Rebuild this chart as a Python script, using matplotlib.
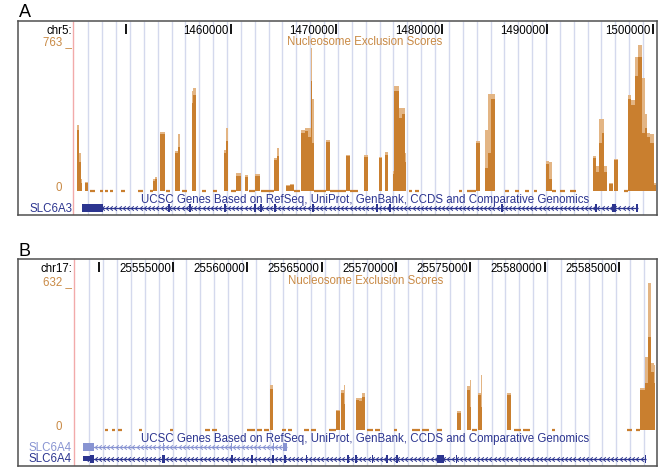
import numpy as np
import matplotlib
matplotlib.use('Agg')
import matplotlib.pyplot as plt
from matplotlib.transforms import offset_copy

plt.rcParams['font.family'] = ['Liberation Sans', 'DejaVu Sans']
plt.rcParams['font.size'] = 8.3

W, H = 661, 470

############# Panel A : chr5, SLC6A3 #############

a_view = [1445023, 1500380]
a_max_score = 763
a_ticks = [1450000, 1460000, 1470000, 1480000, 1490000, 1500000]
a_tick_labels = ['', '1460000', '1470000', '1480000', '1490000', '1500000']

a_bar_start = [1445355, 1445592, 1445734, 1446161, 1452559, 1452796, 1453317, 1454692, 1454929,
               1456256, 1456445, 1459336, 1459526, 1460521, 1461374, 1462275, 1464076, 1464360,
               1465213, 1465593, 1466588, 1467014, 1467299, 1467536, 1467678, 1469005, 1470901,
               1472560, 1474029, 1474550, 1475309, 1475451, 1475877, 1476209, 1476446, 1483224,
               1484077, 1484361, 1484645, 1489859, 1490143, 1494267, 1494598, 1494883, 1495167,
               1495357, 1495783, 1496257, 1497584, 1497916, 1498295, 1498580, 1498959, 1499243,
               1499433, 1499717, 1500049]
a_bar_end = [1445592, 1445734, 1445876, 1446492, 1452796, 1452986, 1453791, 1454929, 1455166,
             1456445, 1456682, 1459526, 1459716, 1460901, 1461611, 1462749, 1464360, 1464550,
             1465545, 1465972, 1467014, 1467299, 1467536, 1467678, 1467820, 1469384, 1471233,
             1472986, 1474313, 1474882, 1475451, 1475877, 1476209, 1476446, 1476588, 1483603,
             1484361, 1484645, 1484977, 1490143, 1490428, 1494598, 1494883, 1495167, 1495357,
             1495641, 1496162, 1496684, 1497916, 1498295, 1498580, 1498959, 1499243, 1499433,
             1499717, 1500049, 1500238]
a_bar_max = [345, 200, 60, 47, 60, 75, 308, 210, 298,
             520, 535, 216, 330, 94, 85, 86, 172, 225,
             30, 38, 320, 330, 330, 747, 480, 268, 190,
             190, 178, 204, 105, 549, 434, 434, 200, 263,
             320, 503, 503, 157, 150, 183, 130, 373, 373,
             130, 40, 169, 502, 472, 700, 763, 590, 399,
             303, 295, 40]
a_bar_mean = [320, 150, 40, 40, 50, 60, 295, 200, 230,
              460, 500, 200, 260, 80, 75, 80, 160, 180,
              25, 30, 300, 310, 280, 575, 250, 255, 180,
              175, 170, 190, 90, 520, 380, 400, 150, 250,
              120, 200, 480, 140, 60, 170, 100, 250, 300,
              100, 35, 160, 480, 450, 600, 700, 300, 330,
              280, 250, 30]
a_zero_start = [1446635, 1447583, 1448056, 1448530, 1449620, 1451185, 1452322, 1453839, 1455355,
                1457204, 1458294, 1460047, 1461706, 1462844, 1465972, 1467820, 1469384, 1471233,
                1476825, 1477441, 1481565, 1482370, 1485972, 1486920, 1487868, 1488674, 1490428,
                1491186, 1492134, 1497205]
a_zero_end = [1447109, 1447914, 1448388, 1448815, 1449952, 1451658, 1452559, 1454218, 1455829,
              1457630, 1458673, 1460521, 1462275, 1464076, 1466541, 1469005, 1470901, 1472038,
              1477157, 1477773, 1481896, 1483224, 1486304, 1487252, 1488200, 1489006, 1490759,
              1491660, 1492655, 1497584]

a_gene_names = ['SLC6A3']
a_gene_span = [(1445850, 1498560)]
a_exon_start = [[1445850, 1454050, 1456020, 1459360, 1462200, 1462770, 1464100, 1467700,
                 1473770, 1474980, 1485620, 1494530, 1496120, 1498420]]
a_exon_end = [[1447870, 1454200, 1456210, 1459500, 1462350, 1462920, 1464240, 1467850,
               1473910, 1475170, 1485760, 1494670, 1496490, 1498560]]

############# Panel B : chr17, SLC6A4 #############

b_view = [25548338, 25587568]
b_max_score = 632
b_ticks = [25550000, 25555000, 25560000, 25565000, 25570000, 25575000, 25580000, 25585000]
b_tick_labels = ['', '25555000', '25560000', '25565000', '25570000', '25575000', '25580000', '25585000']

b_bar_start = [25561494, 25565968, 25566338, 25566473, 25567314, 25567516, 25567718, 25574110,
               25574783, 25574952, 25575523, 25575692, 25577475, 25586424, 25586761, 25586963,
               25587165, 25587333]
b_bar_end = [25561729, 25566204, 25566473, 25566574, 25567516, 25567718, 25567920, 25574346,
             25574952, 25575052, 25575692, 25575793, 25577744, 25586761, 25586963, 25587165,
             25587333, 25587434]
b_bar_max = [193, 86, 170, 193, 139, 139, 159, 82,
             190, 215, 160, 236, 159, 181, 315, 632,
             290, 280]
b_bar_mean = [175, 80, 160, 110, 130, 125, 140, 75,
              170, 100, 150, 100, 150, 170, 200, 400,
              250, 200]
b_zero_start = [25550424, 25550895, 25551299, 25552712, 25554798, 25557153, 25557624, 25559979,
                25560652, 25561123, 25562335, 25562738, 25563815, 25564286, 25565497, 25568054,
                25568593, 25569871, 25571082, 25571755, 25572765, 25575120, 25577946, 25578552,
                25580503, 25585550, 25586155]
b_zero_end = [25550626, 25551097, 25551568, 25552914, 25555000, 25557490, 25557961, 25560518,
              25560989, 25561460, 25562604, 25563008, 25564151, 25564622, 25565968, 25568458,
              25568929, 25570073, 25571621, 25572226, 25573101, 25575456, 25578417, 25579023,
              25580705, 25585886, 25586424]

b_gene_names = ['SLC6A4', 'SLC6A4']
b_gene_span = [(25548944, 25562700), (25548944, 25586860)]
b_exon_start = [[25548944, 25554300, 25558900, 25561700, 25562400],
                [25549420, 25554270, 25558890, 25560280, 25561690, 25562460, 25563950, 25566740,
                 25567240, 25568380, 25569350, 25569980, 25572744, 25574010, 25586790]]
b_exon_end = [[25549684, 25554400, 25558990, 25561780, 25562700],
              [25549684, 25554430, 25559010, 25560390, 25561810, 25562610, 25564040, 25566860,
               25567390, 25568490, 25569490, 25570120, 25573236, 25574080, 25586860]]
# untranslated ends drawn at half height
b_utr_start = [[], [25548944]]
b_utr_end = [[], [25549420]]
a_utr_start = [[]]
a_utr_end = [[]]

################# colours #################

dark_or = '#c97f2f'
light_or = '#e3b584'
label_or = '#c98a45'
navy = '#2c3590'
light_navy = '#8894d2'
grid_c = '#d4d9ed'
red_c = '#f2aaaa'

fig = plt.figure(figsize=(W / 100, H / 100), dpi=100)


def px_axes(x0, y0, x1, y1):
    # axes placed with pixel corners (top-left origin)
    return fig.add_axes([x0 / W, 1 - y1 / H, (x1 - x0) / W, (y1 - y0) / H])


def draw_panel(letter, rows, view, chrom, ticks, tick_labels, max_score,
               b_start, b_end, b_max, b_mean, z_start, z_end,
               gene_names, gene_span, ex_start, ex_end, utr_start, utr_end,
               gene_cols, grid_x0, red_x):
    top, bot = rows['top'], rows['bot']
    fig.text(19 / W, 1 - rows['letter'] / H, letter, fontsize=13, va='baseline')

    # frame with guide lines
    box = px_axes(18, top, 657, bot)
    box.set_xlim(18, 657)
    box.set_ylim(bot, top)
    box.set_xticks([])
    box.set_yticks([])
    for s in box.spines.values():
        s.set_color('#505050')
        s.set_linewidth(1.1)
    box.vlines(np.arange(grid_x0, 656, 13.87), top, bot, color=grid_c, lw=1.0)
    box.vlines(red_x, top, bot, color=red_c, lw=1.0)
    box.text(72, rows['chrom'], chrom, ha='right', va='baseline')
    box.text(72, rows['max'], '%d _' % max_score, ha='right', va='baseline', color=label_or)
    box.text(62, rows['zero'], '0', ha='right', va='baseline', color=label_or)

    # ruler and genes
    trk = px_axes(red_x, top, 657, bot)
    trk.set_xlim(view)
    trk.set_ylim(bot, top)
    trk.axis('off')
    trk.vlines(ticks, rows['ruler'] - 10.5, rows['ruler'], color='black', lw=1.3)
    lab_tr = offset_copy(trk.transData, fig=fig, x=-2, y=0, units='dots')
    for t, lab in zip(ticks, tick_labels):
        trk.text(t, rows['ruler'], lab, ha='right', va='baseline', transform=lab_tr)
    trk.text(np.mean(view), rows['title'], 'Nucleosome Exclusion Scores',
             ha='center', va='baseline', color=label_or)
    trk.text(np.mean(view), rows['gtitle'],
             'UCSC Genes Based on RefSeq, UniProt, GenBank, CCDS and Comparative Genomics',
             ha='center', va='baseline', color=navy)

    step = 4.2 * (view[1] - view[0]) / (657 - red_x)
    chevron = [(0.6, 1), (-0.6, 0), (0.6, -1)]
    for i, name in enumerate(gene_names):
        span, gy, col = gene_span[i], rows['genes'][i], gene_cols[i]
        trk.hlines(gy, span[0], span[1], color=col, lw=0.9)
        pos = np.arange(span[0] + step, span[1] - step / 2, step)
        trk.plot(pos, np.full(len(pos), gy), ls='none', marker=chevron, ms=3.2,
                 mfc='none', mec=col, mew=0.7)
        es = np.array(ex_start[i])
        ee = np.array(ex_end[i])
        trk.bar(es, 8, width=ee - es, bottom=gy - 4, align='edge', color=col, lw=0)
        if len(utr_start[i]):
            us = np.array(utr_start[i])
            ue = np.array(utr_end[i])
            trk.bar(us, 4.5, width=ue - us, bottom=gy - 2.25, align='edge', color=col, lw=0)
        box.text(72, gy + 3.6, name, ha='right', va='baseline', color=col)

    # signal track
    sig = px_axes(red_x, rows['sig_top'], 657, rows['sig_bot'])
    sig.set_xlim(view)
    sig.set_ylim(0, max_score)
    sig.axis('off')
    b_start = np.array(b_start)
    b_end = np.array(b_end)
    sig.bar(b_start, b_max, width=b_end - b_start, align='edge', color=light_or, lw=0)
    sig.bar(b_start, b_mean, width=b_end - b_start, align='edge', color=dark_or, lw=0)
    sig.hlines(np.zeros(len(z_start)), z_start, z_end, color=dark_or, lw=1.6, clip_on=False)


draw_panel('A', dict(letter=17, top=21, bot=215, ruler=34.2, chrom=33.6, max=45.2, title=44.8,
                     zero=191.5, sig_top=44.5, sig_bot=191, gtitle=202.7, genes=[208]),
           a_view, 'chr5:', a_ticks, a_tick_labels, a_max_score,
           a_bar_start, a_bar_end, a_bar_max, a_bar_mean, a_zero_start, a_zero_end,
           a_gene_names, a_gene_span, a_exon_start, a_exon_end, a_utr_start, a_utr_end,
           [navy], 88.3, 73)

draw_panel('B', dict(letter=256.5, top=259, bot=466, ruler=272, chrom=271.6, max=284.8, title=284.5,
                     zero=430, sig_top=283, sig_bot=430, gtitle=441.7, genes=[447, 458.5]),
           b_view, 'chr17:', b_ticks, b_tick_labels, b_max_score,
           b_bar_start, b_bar_end, b_bar_max, b_bar_mean, b_zero_start, b_zero_end,
           b_gene_names, b_gene_span, b_exon_start, b_exon_end, b_utr_start, b_utr_end,
           [light_navy, navy], 89.3, 74)

fig.savefig('out.png', dpi=100)
